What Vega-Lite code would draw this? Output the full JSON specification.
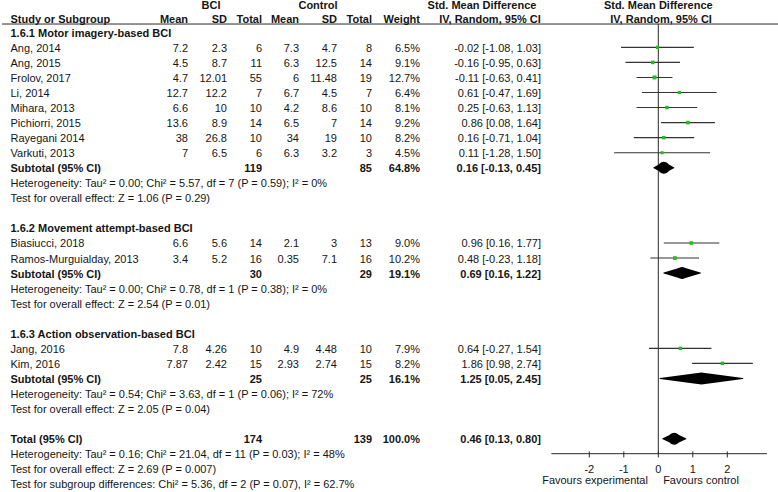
{
  "$schema": "https://vega.github.io/schema/vega-lite/v6.json",
  "width": 778,
  "height": 492,
  "autosize": {"type": "none"},
  "padding": 0,
  "background": "white",
  "config": {
    "view": {"stroke": null},
    "text": {"font": "Liberation Sans", "fontSize": 11, "color": "#151515", "baseline": "middle", "dy": 1.5},
    "rule": {"color": "#2a2a2a", "strokeWidth": 1}
  },
  "datasets": {
    "studies": [
      {"row": 1, "label": "Ang, 2014", "m1": 7.2, "sd1": 2.3, "n1": 6, "m2": 7.3, "sd2": 4.7, "n2": 8, "w": 0.065, "ci": "-0.02 [-1.08, 1.03]", "est": -0.02, "lo": -1.08, "hi": 1.03},
      {"row": 2, "label": "Ang, 2015", "m1": 4.5, "sd1": 8.7, "n1": 11, "m2": 6.3, "sd2": 12.5, "n2": 14, "w": 0.091, "ci": "-0.16 [-0.95, 0.63]", "est": -0.16, "lo": -0.95, "hi": 0.63},
      {"row": 3, "label": "Frolov, 2017", "m1": 4.7, "sd1": 12.01, "n1": 55, "m2": 6, "sd2": 11.48, "n2": 19, "w": 0.127, "ci": "-0.11 [-0.63, 0.41]", "est": -0.11, "lo": -0.63, "hi": 0.41},
      {"row": 4, "label": "Li, 2014", "m1": 12.7, "sd1": 12.2, "n1": 7, "m2": 6.7, "sd2": 4.5, "n2": 7, "w": 0.064, "ci": "0.61 [-0.47, 1.69]", "est": 0.61, "lo": -0.47, "hi": 1.69},
      {"row": 5, "label": "Mihara, 2013", "m1": 6.6, "sd1": 10, "n1": 10, "m2": 4.2, "sd2": 8.6, "n2": 10, "w": 0.081, "ci": "0.25 [-0.63, 1.13]", "est": 0.25, "lo": -0.63, "hi": 1.13},
      {"row": 6, "label": "Pichiorri, 2015", "m1": 13.6, "sd1": 8.9, "n1": 14, "m2": 6.5, "sd2": 7, "n2": 14, "w": 0.092, "ci": "0.86 [0.08, 1.64]", "est": 0.86, "lo": 0.08, "hi": 1.64},
      {"row": 7, "label": "Rayegani 2014", "m1": 38, "sd1": 26.8, "n1": 10, "m2": 34, "sd2": 19, "n2": 10, "w": 0.082, "ci": "0.16 [-0.71, 1.04]", "est": 0.16, "lo": -0.71, "hi": 1.04},
      {"row": 8, "label": "Varkuti, 2013", "m1": 7, "sd1": 6.5, "n1": 6, "m2": 6.3, "sd2": 3.2, "n2": 3, "w": 0.045, "ci": "0.11 [-1.28, 1.50]", "est": 0.11, "lo": -1.28, "hi": 1.5},
      {"row": 14, "label": "Biasiucci, 2018", "m1": 6.6, "sd1": 5.6, "n1": 14, "m2": 2.1, "sd2": 3, "n2": 13, "w": 0.09, "ci": "0.96 [0.16, 1.77]", "est": 0.96, "lo": 0.16, "hi": 1.77},
      {"row": 15, "label": "Ramos-Murguialday, 2013", "m1": 3.4, "sd1": 5.2, "n1": 16, "m2": 0.35, "sd2": 7.1, "n2": 16, "w": 0.102, "ci": "0.48 [-0.23, 1.18]", "est": 0.48, "lo": -0.23, "hi": 1.18},
      {"row": 21, "label": "Jang, 2016", "m1": 7.8, "sd1": 4.26, "n1": 10, "m2": 4.9, "sd2": 4.48, "n2": 10, "w": 0.079, "ci": "0.64 [-0.27, 1.54]", "est": 0.64, "lo": -0.27, "hi": 1.54},
      {"row": 22, "label": "Kim, 2016", "m1": 7.87, "sd1": 2.42, "n1": 15, "m2": 2.93, "sd2": 2.74, "n2": 15, "w": 0.082, "ci": "1.86 [0.98, 2.74]", "est": 1.86, "lo": 0.98, "hi": 2.74}
    ],
    "summaries": [
      {"row": 9, "label": "Subtotal (95% CI)", "n1": 119, "n2": 85, "w": 0.648, "ci": "0.16 [-0.13, 0.45]", "est": 0.16, "lo": -0.13, "hi": 0.45},
      {"row": 16, "label": "Subtotal (95% CI)", "n1": 30, "n2": 29, "w": 0.191, "ci": "0.69 [0.16, 1.22]", "est": 0.69, "lo": 0.16, "hi": 1.22},
      {"row": 23, "label": "Subtotal (95% CI)", "n1": 25, "n2": 25, "w": 0.161, "ci": "1.25 [0.05, 2.45]", "est": 1.25, "lo": 0.05, "hi": 2.45},
      {"row": 27, "label": "Total (95% CI)", "n1": 174, "n2": 139, "w": 1.0, "ci": "0.46 [0.13, 0.80]", "est": 0.46, "lo": 0.13, "hi": 0.8}
    ],
    "headings": [
      {"row": 0, "label": "1.6.1 Motor imagery-based BCI"},
      {"row": 13, "label": "1.6.2 Movement attempt-based BCI"},
      {"row": 20, "label": "1.6.3 Action observation-based BCI"}
    ],
    "notes": [
      {"row": 10, "label": "Heterogeneity: Tau² = 0.00; Chi² = 5.57, df = 7 (P = 0.59); I² = 0%"},
      {"row": 11, "label": "Test for overall effect: Z = 1.06 (P = 0.29)"},
      {"row": 17, "label": "Heterogeneity: Tau² = 0.00; Chi² = 0.78, df = 1 (P = 0.38); I² = 0%"},
      {"row": 18, "label": "Test for overall effect: Z = 2.54 (P = 0.01)"},
      {"row": 24, "label": "Heterogeneity: Tau² = 0.54; Chi² = 3.63, df = 1 (P = 0.06); I² = 72%"},
      {"row": 25, "label": "Test for overall effect: Z = 2.05 (P = 0.04)"},
      {"row": 28, "label": "Heterogeneity: Tau² = 0.16; Chi² = 21.04, df = 11 (P = 0.03); I² = 48%"},
      {"row": 29, "label": "Test for overall effect: Z = 2.69 (P = 0.007)"},
      {"row": 30, "label": "Test for subgroup differences: Chi² = 5.36, df = 2 (P = 0.07), I² = 62.7%"}
    ],
    "ticks": [
      {"v": -2, "lab": "-2"}, {"v": -1, "lab": "-1"}, {"v": 0, "lab": "0"}, {"v": 1, "lab": "1"}, {"v": 2, "lab": "2"}
    ]
  },
  "resolve": {"scale": {"x": "independent"}},
  "layer": [
    {
      "layer": [
        {
          "data": {"values": [{}]},
          "mark": {"type": "rule"},
          "encoding": {
            "x": {"datum": 2, "type": "quantitative", "scale": {"domain": [0, 778], "nice": false, "zero": false}, "axis": null},
            "x2": {"datum": 778},
            "y": {"datum": -0.55, "type": "quantitative", "scale": {"domain": [-2.146, 30.545], "reverse": true, "nice": false, "zero": false}, "axis": null}
          }
        },
        {
          "data": {"values": [{}]},
          "mark": {"type": "text", "fontWeight": "bold", "align": "center"},
          "encoding": {
            "x": {"datum": 211, "type": "quantitative", "scale": {"domain": [0, 778], "nice": false, "zero": false}, "axis": null},
            "y": {"datum": -1.85, "type": "quantitative", "scale": {"domain": [-2.146, 30.545], "reverse": true, "nice": false, "zero": false}, "axis": null},
            "text": {"value": "BCI"}
          }
        },
        {
          "data": {"values": [{}]},
          "mark": {"type": "text", "fontWeight": "bold", "align": "center"},
          "encoding": {
            "x": {"datum": 318, "type": "quantitative", "scale": {"domain": [0, 778], "nice": false, "zero": false}, "axis": null},
            "y": {"datum": -1.85, "type": "quantitative", "scale": {"domain": [-2.146, 30.545], "reverse": true, "nice": false, "zero": false}, "axis": null},
            "text": {"value": "Control"}
          }
        },
        {
          "data": {"values": [{}]},
          "mark": {"type": "text", "fontWeight": "bold", "align": "center"},
          "encoding": {
            "x": {"datum": 482, "type": "quantitative", "scale": {"domain": [0, 778], "nice": false, "zero": false}, "axis": null},
            "y": {"datum": -1.85, "type": "quantitative", "scale": {"domain": [-2.146, 30.545], "reverse": true, "nice": false, "zero": false}, "axis": null},
            "text": {"value": "Std. Mean Difference"}
          }
        },
        {
          "data": {"values": [{}]},
          "mark": {"type": "text", "fontWeight": "bold", "align": "left"},
          "encoding": {
            "x": {"datum": 10.5, "type": "quantitative", "scale": {"domain": [0, 778], "nice": false, "zero": false}, "axis": null},
            "y": {"datum": -0.92, "type": "quantitative", "scale": {"domain": [-2.146, 30.545], "reverse": true, "nice": false, "zero": false}, "axis": null},
            "text": {"value": "Study or Subgroup"}
          }
        },
        {
          "data": {"values": [{}]},
          "mark": {"type": "text", "fontWeight": "bold", "align": "right"},
          "encoding": {
            "x": {"datum": 188, "type": "quantitative", "scale": {"domain": [0, 778], "nice": false, "zero": false}, "axis": null},
            "y": {"datum": -0.92, "type": "quantitative", "scale": {"domain": [-2.146, 30.545], "reverse": true, "nice": false, "zero": false}, "axis": null},
            "text": {"value": "Mean"}
          }
        },
        {
          "data": {"values": [{}]},
          "mark": {"type": "text", "fontWeight": "bold", "align": "right"},
          "encoding": {
            "x": {"datum": 227, "type": "quantitative", "scale": {"domain": [0, 778], "nice": false, "zero": false}, "axis": null},
            "y": {"datum": -0.92, "type": "quantitative", "scale": {"domain": [-2.146, 30.545], "reverse": true, "nice": false, "zero": false}, "axis": null},
            "text": {"value": "SD"}
          }
        },
        {
          "data": {"values": [{}]},
          "mark": {"type": "text", "fontWeight": "bold", "align": "right"},
          "encoding": {
            "x": {"datum": 262, "type": "quantitative", "scale": {"domain": [0, 778], "nice": false, "zero": false}, "axis": null},
            "y": {"datum": -0.92, "type": "quantitative", "scale": {"domain": [-2.146, 30.545], "reverse": true, "nice": false, "zero": false}, "axis": null},
            "text": {"value": "Total"}
          }
        },
        {
          "data": {"values": [{}]},
          "mark": {"type": "text", "fontWeight": "bold", "align": "right"},
          "encoding": {
            "x": {"datum": 299, "type": "quantitative", "scale": {"domain": [0, 778], "nice": false, "zero": false}, "axis": null},
            "y": {"datum": -0.92, "type": "quantitative", "scale": {"domain": [-2.146, 30.545], "reverse": true, "nice": false, "zero": false}, "axis": null},
            "text": {"value": "Mean"}
          }
        },
        {
          "data": {"values": [{}]},
          "mark": {"type": "text", "fontWeight": "bold", "align": "right"},
          "encoding": {
            "x": {"datum": 337, "type": "quantitative", "scale": {"domain": [0, 778], "nice": false, "zero": false}, "axis": null},
            "y": {"datum": -0.92, "type": "quantitative", "scale": {"domain": [-2.146, 30.545], "reverse": true, "nice": false, "zero": false}, "axis": null},
            "text": {"value": "SD"}
          }
        },
        {
          "data": {"values": [{}]},
          "mark": {"type": "text", "fontWeight": "bold", "align": "right"},
          "encoding": {
            "x": {"datum": 372, "type": "quantitative", "scale": {"domain": [0, 778], "nice": false, "zero": false}, "axis": null},
            "y": {"datum": -0.92, "type": "quantitative", "scale": {"domain": [-2.146, 30.545], "reverse": true, "nice": false, "zero": false}, "axis": null},
            "text": {"value": "Total"}
          }
        },
        {
          "data": {"values": [{}]},
          "mark": {"type": "text", "fontWeight": "bold", "align": "right"},
          "encoding": {
            "x": {"datum": 420, "type": "quantitative", "scale": {"domain": [0, 778], "nice": false, "zero": false}, "axis": null},
            "y": {"datum": -0.92, "type": "quantitative", "scale": {"domain": [-2.146, 30.545], "reverse": true, "nice": false, "zero": false}, "axis": null},
            "text": {"value": "Weight"}
          }
        },
        {
          "data": {"values": [{}]},
          "mark": {"type": "text", "fontWeight": "bold", "align": "center"},
          "encoding": {
            "x": {"datum": 490, "type": "quantitative", "scale": {"domain": [0, 778], "nice": false, "zero": false}, "axis": null},
            "y": {"datum": -0.92, "type": "quantitative", "scale": {"domain": [-2.146, 30.545], "reverse": true, "nice": false, "zero": false}, "axis": null},
            "text": {"value": "IV, Random, 95% CI"}
          }
        },
        {
          "data": {"name": "studies"},
          "mark": {"type": "text", "align": "left"},
          "encoding": {
            "x": {"datum": 10.5, "type": "quantitative", "scale": {"domain": [0, 778], "nice": false, "zero": false}, "axis": null},
            "y": {"field": "row", "type": "quantitative", "scale": {"domain": [-2.146, 30.545], "reverse": true, "nice": false, "zero": false}, "axis": null},
            "text": {"field": "label", "type": "nominal"}
          }
        },
        {
          "data": {"name": "studies"},
          "mark": {"type": "text", "align": "right"},
          "encoding": {
            "x": {"datum": 188, "type": "quantitative", "scale": {"domain": [0, 778], "nice": false, "zero": false}, "axis": null},
            "y": {"field": "row", "type": "quantitative", "scale": {"domain": [-2.146, 30.545], "reverse": true, "nice": false, "zero": false}, "axis": null},
            "text": {"field": "m1", "type": "nominal"}
          }
        },
        {
          "data": {"name": "studies"},
          "mark": {"type": "text", "align": "right"},
          "encoding": {
            "x": {"datum": 227, "type": "quantitative", "scale": {"domain": [0, 778], "nice": false, "zero": false}, "axis": null},
            "y": {"field": "row", "type": "quantitative", "scale": {"domain": [-2.146, 30.545], "reverse": true, "nice": false, "zero": false}, "axis": null},
            "text": {"field": "sd1", "type": "nominal"}
          }
        },
        {
          "data": {"name": "studies"},
          "mark": {"type": "text", "align": "right"},
          "encoding": {
            "x": {"datum": 262, "type": "quantitative", "scale": {"domain": [0, 778], "nice": false, "zero": false}, "axis": null},
            "y": {"field": "row", "type": "quantitative", "scale": {"domain": [-2.146, 30.545], "reverse": true, "nice": false, "zero": false}, "axis": null},
            "text": {"field": "n1", "type": "nominal"}
          }
        },
        {
          "data": {"name": "studies"},
          "mark": {"type": "text", "align": "right"},
          "encoding": {
            "x": {"datum": 299, "type": "quantitative", "scale": {"domain": [0, 778], "nice": false, "zero": false}, "axis": null},
            "y": {"field": "row", "type": "quantitative", "scale": {"domain": [-2.146, 30.545], "reverse": true, "nice": false, "zero": false}, "axis": null},
            "text": {"field": "m2", "type": "nominal"}
          }
        },
        {
          "data": {"name": "studies"},
          "mark": {"type": "text", "align": "right"},
          "encoding": {
            "x": {"datum": 337, "type": "quantitative", "scale": {"domain": [0, 778], "nice": false, "zero": false}, "axis": null},
            "y": {"field": "row", "type": "quantitative", "scale": {"domain": [-2.146, 30.545], "reverse": true, "nice": false, "zero": false}, "axis": null},
            "text": {"field": "sd2", "type": "nominal"}
          }
        },
        {
          "data": {"name": "studies"},
          "mark": {"type": "text", "align": "right"},
          "encoding": {
            "x": {"datum": 372, "type": "quantitative", "scale": {"domain": [0, 778], "nice": false, "zero": false}, "axis": null},
            "y": {"field": "row", "type": "quantitative", "scale": {"domain": [-2.146, 30.545], "reverse": true, "nice": false, "zero": false}, "axis": null},
            "text": {"field": "n2", "type": "nominal"}
          }
        },
        {
          "data": {"name": "studies"},
          "mark": {"type": "text", "align": "right"},
          "encoding": {
            "x": {"datum": 420, "type": "quantitative", "scale": {"domain": [0, 778], "nice": false, "zero": false}, "axis": null},
            "y": {"field": "row", "type": "quantitative", "scale": {"domain": [-2.146, 30.545], "reverse": true, "nice": false, "zero": false}, "axis": null},
            "text": {"field": "w", "type": "quantitative", "format": ".1%"}
          }
        },
        {
          "data": {"name": "studies"},
          "mark": {"type": "text", "align": "right"},
          "encoding": {
            "x": {"datum": 541, "type": "quantitative", "scale": {"domain": [0, 778], "nice": false, "zero": false}, "axis": null},
            "y": {"field": "row", "type": "quantitative", "scale": {"domain": [-2.146, 30.545], "reverse": true, "nice": false, "zero": false}, "axis": null},
            "text": {"field": "ci", "type": "nominal"}
          }
        },
        {
          "data": {"name": "summaries"},
          "mark": {"type": "text", "align": "left", "fontWeight": "bold"},
          "encoding": {
            "x": {"datum": 10.5, "type": "quantitative", "scale": {"domain": [0, 778], "nice": false, "zero": false}, "axis": null},
            "y": {"field": "row", "type": "quantitative", "scale": {"domain": [-2.146, 30.545], "reverse": true, "nice": false, "zero": false}, "axis": null},
            "text": {"field": "label", "type": "nominal"}
          }
        },
        {
          "data": {"name": "summaries"},
          "mark": {"type": "text", "align": "right", "fontWeight": "bold"},
          "encoding": {
            "x": {"datum": 262, "type": "quantitative", "scale": {"domain": [0, 778], "nice": false, "zero": false}, "axis": null},
            "y": {"field": "row", "type": "quantitative", "scale": {"domain": [-2.146, 30.545], "reverse": true, "nice": false, "zero": false}, "axis": null},
            "text": {"field": "n1", "type": "nominal"}
          }
        },
        {
          "data": {"name": "summaries"},
          "mark": {"type": "text", "align": "right", "fontWeight": "bold"},
          "encoding": {
            "x": {"datum": 372, "type": "quantitative", "scale": {"domain": [0, 778], "nice": false, "zero": false}, "axis": null},
            "y": {"field": "row", "type": "quantitative", "scale": {"domain": [-2.146, 30.545], "reverse": true, "nice": false, "zero": false}, "axis": null},
            "text": {"field": "n2", "type": "nominal"}
          }
        },
        {
          "data": {"name": "summaries"},
          "mark": {"type": "text", "align": "right", "fontWeight": "bold"},
          "encoding": {
            "x": {"datum": 420, "type": "quantitative", "scale": {"domain": [0, 778], "nice": false, "zero": false}, "axis": null},
            "y": {"field": "row", "type": "quantitative", "scale": {"domain": [-2.146, 30.545], "reverse": true, "nice": false, "zero": false}, "axis": null},
            "text": {"field": "w", "type": "quantitative", "format": ".1%"}
          }
        },
        {
          "data": {"name": "summaries"},
          "mark": {"type": "text", "align": "right", "fontWeight": "bold"},
          "encoding": {
            "x": {"datum": 541, "type": "quantitative", "scale": {"domain": [0, 778], "nice": false, "zero": false}, "axis": null},
            "y": {"field": "row", "type": "quantitative", "scale": {"domain": [-2.146, 30.545], "reverse": true, "nice": false, "zero": false}, "axis": null},
            "text": {"field": "ci", "type": "nominal"}
          }
        },
        {
          "data": {"name": "headings"},
          "mark": {"type": "text", "align": "left", "fontWeight": "bold"},
          "encoding": {
            "x": {"datum": 10.5, "type": "quantitative", "scale": {"domain": [0, 778], "nice": false, "zero": false}, "axis": null},
            "y": {"field": "row", "type": "quantitative", "scale": {"domain": [-2.146, 30.545], "reverse": true, "nice": false, "zero": false}, "axis": null},
            "text": {"field": "label", "type": "nominal"}
          }
        },
        {
          "data": {"name": "notes"},
          "mark": {"type": "text", "align": "left"},
          "encoding": {
            "x": {"datum": 10.5, "type": "quantitative", "scale": {"domain": [0, 778], "nice": false, "zero": false}, "axis": null},
            "y": {"field": "row", "type": "quantitative", "scale": {"domain": [-2.146, 30.545], "reverse": true, "nice": false, "zero": false}, "axis": null},
            "text": {"field": "label", "type": "nominal"}
          }
        }
      ]
    },
    {
      "layer": [
        {
          "data": {"values": [{}]},
          "mark": {"type": "rule"},
          "encoding": {
            "x": {"datum": 0, "type": "quantitative", "scale": {"domain": [-19.081, 3.4696], "nice": false, "zero": false}, "axis": null},
            "y": {"datum": -0.55, "type": "quantitative", "scale": {"domain": [-2.146, 30.545], "reverse": true, "nice": false, "zero": false}, "axis": null},
            "y2": {"datum": 28}
          }
        },
        {
          "data": {"values": [{}]},
          "mark": {"type": "rule"},
          "encoding": {
            "x": {"datum": -3.1, "type": "quantitative", "scale": {"domain": [-19.081, 3.4696], "nice": false, "zero": false}, "axis": null},
            "x2": {"datum": 3.15},
            "y": {"datum": 28, "type": "quantitative", "scale": {"domain": [-2.146, 30.545], "reverse": true, "nice": false, "zero": false}, "axis": null}
          }
        },
        {
          "data": {"name": "ticks"},
          "mark": {"type": "rule"},
          "encoding": {
            "x": {"field": "v", "type": "quantitative", "scale": {"domain": [-19.081, 3.4696], "nice": false, "zero": false}, "axis": null},
            "y": {"datum": 27.85, "type": "quantitative", "scale": {"domain": [-2.146, 30.545], "reverse": true, "nice": false, "zero": false}, "axis": null},
            "y2": {"datum": 28.25}
          }
        },
        {
          "data": {"name": "ticks"},
          "mark": {"type": "text", "align": "center"},
          "encoding": {
            "x": {"field": "v", "type": "quantitative", "scale": {"domain": [-19.081, 3.4696], "nice": false, "zero": false}, "axis": null},
            "y": {"datum": 29, "type": "quantitative", "scale": {"domain": [-2.146, 30.545], "reverse": true, "nice": false, "zero": false}, "axis": null},
            "text": {"field": "lab", "type": "nominal"}
          }
        },
        {
          "data": {"values": [{}]},
          "mark": {"type": "text", "align": "right"},
          "encoding": {
            "x": {"datum": -0.3, "type": "quantitative", "scale": {"domain": [-19.081, 3.4696], "nice": false, "zero": false}, "axis": null},
            "y": {"datum": 29.7, "type": "quantitative", "scale": {"domain": [-2.146, 30.545], "reverse": true, "nice": false, "zero": false}, "axis": null},
            "text": {"value": "Favours experimental"}
          }
        },
        {
          "data": {"values": [{}]},
          "mark": {"type": "text", "align": "left"},
          "encoding": {
            "x": {"datum": 0.14, "type": "quantitative", "scale": {"domain": [-19.081, 3.4696], "nice": false, "zero": false}, "axis": null},
            "y": {"datum": 29.7, "type": "quantitative", "scale": {"domain": [-2.146, 30.545], "reverse": true, "nice": false, "zero": false}, "axis": null},
            "text": {"value": "Favours control"}
          }
        },
        {
          "data": {"values": [{}]},
          "mark": {"type": "text", "align": "center", "fontWeight": "bold"},
          "encoding": {
            "x": {"datum": 0, "type": "quantitative", "scale": {"domain": [-19.081, 3.4696], "nice": false, "zero": false}, "axis": null},
            "y": {"datum": -1.85, "type": "quantitative", "scale": {"domain": [-2.146, 30.545], "reverse": true, "nice": false, "zero": false}, "axis": null},
            "text": {"value": "Std. Mean Difference"}
          }
        },
        {
          "data": {"values": [{}]},
          "mark": {"type": "text", "align": "center", "fontWeight": "bold"},
          "encoding": {
            "x": {"datum": 0.08, "type": "quantitative", "scale": {"domain": [-19.081, 3.4696], "nice": false, "zero": false}, "axis": null},
            "y": {"datum": -0.92, "type": "quantitative", "scale": {"domain": [-2.146, 30.545], "reverse": true, "nice": false, "zero": false}, "axis": null},
            "text": {"value": "IV, Random, 95% CI"}
          }
        },
        {
          "data": {"name": "studies"},
          "mark": {"type": "rule", "color": "#333333", "strokeWidth": 1.1},
          "encoding": {
            "x": {"field": "lo", "type": "quantitative", "scale": {"domain": [-19.081, 3.4696], "nice": false, "zero": false}, "axis": null},
            "x2": {"field": "hi"},
            "y": {"field": "row", "type": "quantitative", "scale": {"domain": [-2.146, 30.545], "reverse": true, "nice": false, "zero": false}, "axis": null}
          }
        },
        {
          "data": {"name": "studies"},
          "mark": {"type": "square", "color": "#22bb22", "opacity": 1},
          "encoding": {
            "x": {"field": "est", "type": "quantitative", "scale": {"domain": [-19.081, 3.4696], "nice": false, "zero": false}, "axis": null},
            "y": {"field": "row", "type": "quantitative", "scale": {"domain": [-2.146, 30.545], "reverse": true, "nice": false, "zero": false}, "axis": null},
            "size": {"field": "w", "type": "quantitative", "scale": {"domain": [0.045, 0.127], "range": [9, 16]}, "legend": null}
          }
        },
        {
          "data": {"name": "summaries"},
          "transform": [{"fold": ["lo", "est", "hi"], "as": ["pt", "xv"]}],
          "mark": {"type": "trail", "color": "black"},
          "encoding": {
            "x": {"field": "xv", "type": "quantitative", "scale": {"domain": [-19.081, 3.4696], "nice": false, "zero": false}, "axis": null},
            "y": {"field": "row", "type": "quantitative", "scale": {"domain": [-2.146, 30.545], "reverse": true, "nice": false, "zero": false}, "axis": null},
            "detail": {"field": "row", "type": "nominal"},
            "order": {"field": "xv", "type": "quantitative"},
            "size": {"condition": {"test": "datum.pt === 'est'", "value": 12}, "value": 0}
          }
        }
      ]
    }
  ]
}
